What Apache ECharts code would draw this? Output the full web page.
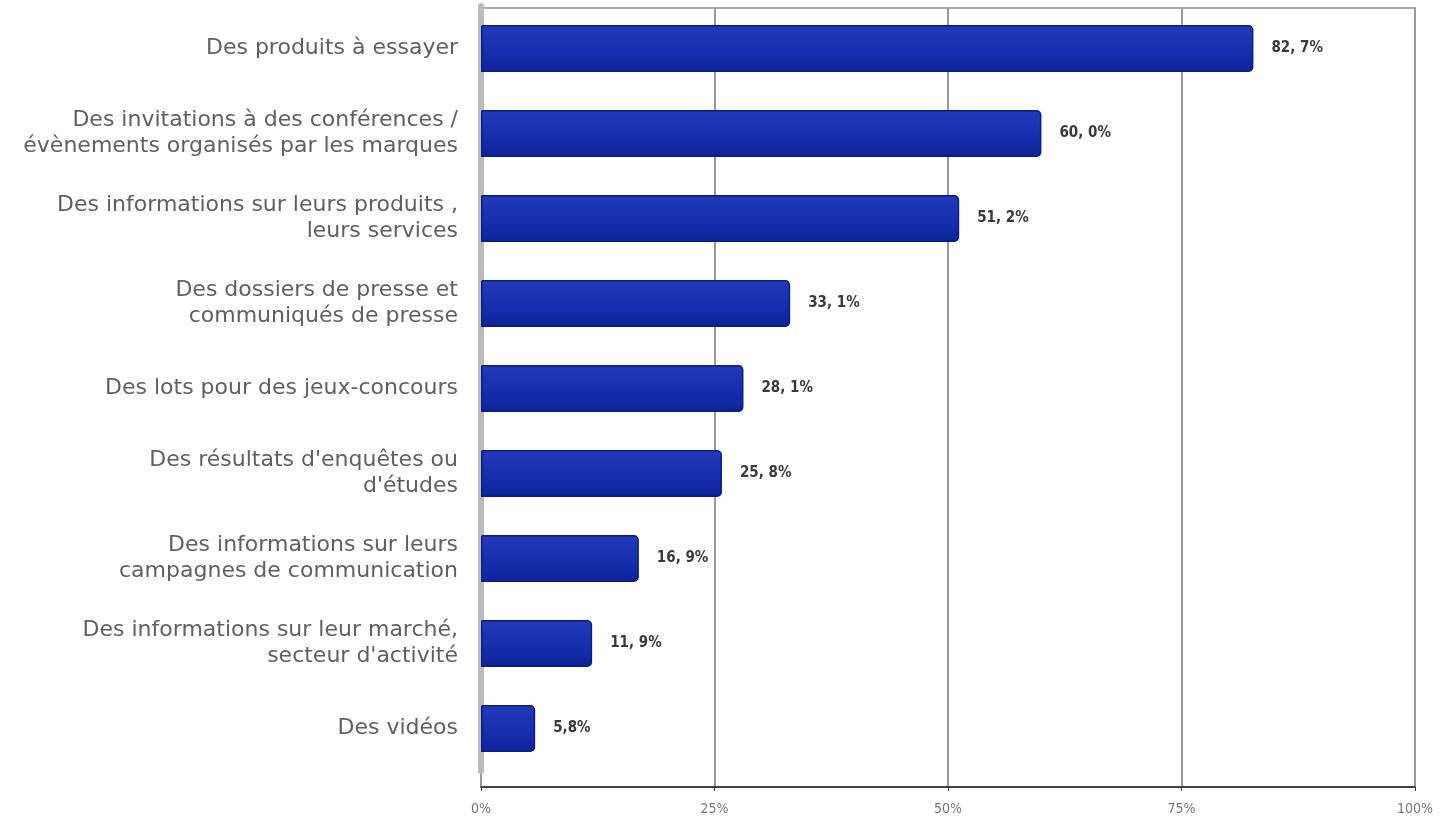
<!DOCTYPE html>
<html><head><meta charset="utf-8">
<script src="https://cdn.jsdelivr.net/npm/echarts@6/dist/echarts.min.js"></script>
<style>html,body{margin:0;padding:0;background:#fff}#c{width:1448px;height:820px}</style>
</head><body><div id="c"></div>
<script>
const categories = [
  "Des produits à essayer",
  "Des invitations à des conférences /\névènements organisés par les marques",
  "Des informations sur leurs produits ,\nleurs services",
  "Des dossiers de presse et\ncommuniqués de presse",
  "Des lots pour des jeux-concours",
  "Des résultats d'enquêtes ou\nd'études",
  "Des informations sur leurs\ncampagnes de communication",
  "Des informations sur leur marché,\nsecteur d'activité",
  "Des vidéos"
];
const values = [82.7, 60.0, 51.2, 33.1, 28.1, 25.8, 16.9, 11.9, 5.8];
const valueLabels = ["82, 7%", "60, 0%", "51, 2%", "33, 1%", "28, 1%", "25, 8%", "16, 9%", "11, 9%", "5,8%"];
const tickValues = [0, 25, 50, 75, 100];

const chart = echarts.init(document.getElementById('c'));
chart.setOption({
  animation: false,
  grid: [
    {left: 481, right: 33, top: 8, bottom: 33, show: true, borderColor: '#aaa', borderWidth: 2, backgroundColor: '#fff'},
    {left: 481, right: 33, top: 6, height: 765}
  ],
  xAxis: [
    {gridIndex: 0, type: 'value', min: 0, max: 100, interval: 25,
     axisLine: {show: true, lineStyle: {color: '#222', width: 1.5}},
     axisTick: {show: true, length: 4, lineStyle: {color: '#444'}},
     splitLine: {show: true, lineStyle: {color: '#999', width: 2}},
     axisLabel: {formatter: '{value}%', fontFamily: 'DejaVu Sans Condensed', fontSize: 14, color: '#777', margin: 15}},
    {gridIndex: 1, type: 'value', min: 0, max: 100, show: false}
  ],
  yAxis: [
    {gridIndex: 0, type: 'value', show: false},
    {gridIndex: 1, type: 'category', data: categories, inverse: true,
     axisLine: {show: true, lineStyle: {color: '#bbb', width: 6}},
     axisTick: {show: false},
     axisLabel: {fontFamily: 'DejaVu Sans', fontSize: 22, color: '#606060', margin: 23, lineHeight: 26, align: 'right'}}
  ],
  series: [{
    type: 'bar', xAxisIndex: 1, yAxisIndex: 1,
    data: values, barWidth: 47,
    itemStyle: {
      color: new echarts.graphic.LinearGradient(0, 0, 0, 1, [
        {offset: 0, color: '#2338b8'}, {offset: 0.5, color: '#1630b0'}, {offset: 1, color: '#0d2398'}
      ]),
      borderColor: '#0a1c88', borderWidth: 1.5, borderRadius: [0, 4, 4, 0]
    },
    label: {show: true, position: 'right', distance: 18,
      formatter: p => valueLabels[p.dataIndex],
      fontFamily: 'DejaVu Sans Condensed', fontWeight: 'bold', fontSize: 15, color: '#3a3a3a'}
  }]
});
</script></body></html>
